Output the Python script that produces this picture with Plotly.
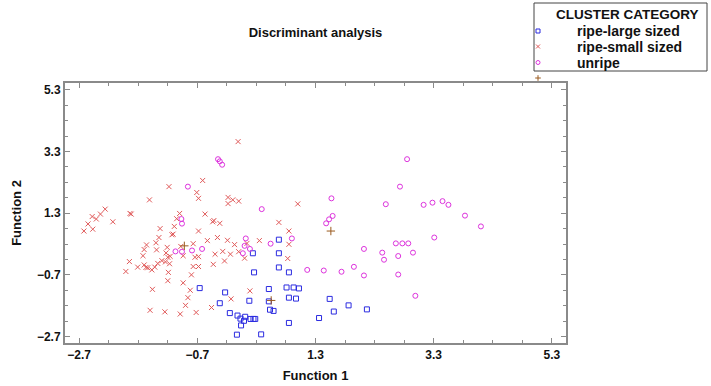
import plotly.graph_objects as go

# ---- data ----
large_x = [0.68, 0.24, 0.68, 0.68, 0.26, 0.85, -0.66, -0.23, 0.51, 0.81, 0.93, 1.02,
           1.54, -0.32, 0.18, 0.51, 0.85, 0.97, -0.15, -0.02, 0.03, 0.11, 0.09, 0.20,
           0.25, 0.28, 0.53, 0.59, 0.04, 0.85, 1.36, -0.03, 0.38, 1.86, 1.61, 2.17]
large_y = [0.44, 0.00, 0.00, -0.46, -0.62, -0.62, -1.13, -1.27, -1.16, -1.11, -1.11, -1.14,
           -1.48, -1.62, -1.54, -1.56, -1.44, -1.47, -1.94, -2.02, -2.12, -2.06, -2.19, -2.13,
           -2.13, -2.13, -1.83, -1.87, -2.34, -2.26, -2.10, -2.64, -2.63, -1.69, -1.89, -1.82]

small_x = [-0.01, -0.61, -1.18, -0.71, -0.68, -1.51, -0.18, -0.10, 0.00, -0.18, 1.00,
           -2.26, -2.34, -2.48, -2.41, -2.55, -2.47, -2.62, -2.13, -1.84, -1.82, -1.00,
           -1.05, -1.09, -0.57, -0.42, -0.44, -0.32, 0.68, -1.33, -0.68, 0.85, -1.11,
           -1.13, -1.35, -0.36, -0.53, -0.19, -0.07, 0.14, 0.35, 0.85, -0.77, -1.56,
           -1.40, -0.98, -1.60, -1.39, -1.21, -1.23, -1.16, -1.20, -0.94, -0.74, -0.68,
           -0.40, -0.27, -0.14, 0.00, 0.10, 0.83, -1.62, -1.30, -1.37, -1.24, -1.17,
           -1.85, -1.60, -1.71, -1.57, -1.54, -1.47, -1.42, -1.91, -1.19, -0.77, -0.68,
           -0.43, -0.24, -0.80, -1.20, -0.94, -1.46, -0.82, 0.19, -0.86, -0.13, -0.90,
           -0.46, -0.72, -0.99, -1.25, -1.50]
small_y = [3.62, 2.36, 2.16, 1.97, 1.78, 1.73, 1.81, 1.73, 1.69, 1.61, 1.60,
           1.43, 1.27, 1.19, 1.11, 0.95, 0.78, 0.72, 1.02, 1.29, 1.27, 1.29,
           1.12, 0.87, 1.27, 1.06, 1.02, 0.97, 1.00, 0.80, 0.72, 0.72, 0.62,
           0.60, 0.51, 0.51, 0.41, 0.42, 0.28, 0.32, 0.41, 0.29, 0.31, 0.27,
           0.34, 0.22, 0.12, 0.11, 0.19, 0.01, -0.10, -0.13, -0.08, -0.13, -0.11,
           -0.03, 0.06, -0.03, 0.05, -0.16, -0.17, -0.08, -0.24, -0.33, -0.28, -0.34,
           -0.27, -0.38, -0.45, -0.46, -0.47, -0.54, -0.45, -0.59, -0.62, -0.43, -0.43,
           -0.36, -0.25, -0.70, -0.89, -0.96, -1.17, -1.20, -1.22, -1.44, -1.48, -1.69,
           -1.76, -1.92, -1.97, -1.90, -1.85]

unripe_x = [-0.35, -0.32, -0.28, -0.86, 0.39, -0.97, -0.96, 0.12, 0.90, 0.10, 0.19, 0.54,
            0.07, -1.07, -0.96, -0.79, -0.62, 1.16, 1.44, 2.85, 2.73, 1.57, 2.49, 3.13,
            3.28, 3.45, 3.55, 3.83, 4.10, 1.59, 1.53, 1.48, 3.31, 2.66, 2.77, 2.87,
            2.12, 2.43, 2.95, 2.70, 2.46, 1.95, 1.74, 2.12, 2.70, 2.99]
unripe_y = [3.05, 2.98, 2.87, 2.16, 1.43, 1.11, 0.96, 0.48, 0.48, 0.24, 0.14, 0.31,
            0.00, 0.06, 0.05, 0.09, 0.14, -0.54, -0.56, 3.05, 2.16, 1.78, 1.59, 1.57,
            1.64, 1.69, 1.57, 1.22, 0.87, 1.21, 1.10, 0.97, 0.51, 0.32, 0.32, 0.32,
            0.14, 0.02, 0.02, -0.09, -0.21, -0.44, -0.60, -0.72, -0.69, -1.38]

centroid_x = [-0.92, 0.55, 1.56]
centroid_y = [0.24, -1.53, 0.72]

legend_title = "CLUSTER CATEGORY"
series_names = ["ripe-large sized", "ripe-small sized", "unripe"]

x_ticks_start, x_ticks_step = -2.7, 2.0
y_ticks_start, y_ticks_step = -2.7, 2.0

# ---- styles / layout ----
W, H = 711, 386
BLUE = "#2b2be0"
RED = "#e05a5a"
MAGENTA = "#dd33dd"
BROWN = "#9a5a1e"
AXIS = "#8a8a8a"
FONT = "Liberation Sans, Arial, sans-serif"

SYMBOLS = ["square-open", "x-thin-open", "circle-open"]
COLORS = [BLUE, RED, MAGENTA]

# plot frame in page pixels
PL, PR, PT, PB = 65, 566, 83, 343

fig = go.Figure()
series = [(large_x, large_y), (small_x, small_y), (unripe_x, unripe_y)]
for (xs, ys), name, sym, col in zip(series, series_names, SYMBOLS, COLORS):
    fig.add_trace(go.Scatter(x=xs, y=ys, mode="markers", name=name, showlegend=False,
                             marker=dict(symbol=sym, size=5, color=col, line=dict(width=1, color=col))))
fig.add_trace(go.Scatter(x=centroid_x, y=centroid_y, mode="markers", name="centroids", showlegend=False,
                         marker=dict(symbol="cross-thin-open", size=6, color=BROWN, line=dict(width=1, color=BROWN))))

# ---- custom legend block, drawn on a full-page pixel overlay (x2/y2) ----
LEG_BOX = (534, 707, 3, 71)
SW_X, TXT_X, TITLE_X, TITLE_Y = 538, 575, 627, 14
ROW_Y = [31, 46.5, 62.5]
EXTRA_Y = 78

fig.add_shape(type="rect", xref="x2", yref="y2", x0=LEG_BOX[0], x1=LEG_BOX[1], y0=LEG_BOX[2], y1=LEG_BOX[3],
              line=dict(color="#444", width=1), fillcolor="rgba(0,0,0,0)", layer="above")
fig.add_annotation(text=legend_title, x=TITLE_X, y=TITLE_Y, xref="x2", yref="y2",
                   showarrow=False, xanchor="center", yanchor="middle",
                   font=dict(family=FONT, size=13.5, color="#111", weight="bold"))
for name, ry in zip(series_names, ROW_Y):
    fig.add_annotation(text=name, x=TXT_X, y=ry, xref="x2", yref="y2",
                       showarrow=False, xanchor="left", yanchor="middle",
                       font=dict(family=FONT, size=14, color="#111", weight="bold"))
fig.add_trace(go.Scatter(x=[SW_X] * 4, y=ROW_Y + [EXTRA_Y], xaxis="x2", yaxis="y2",
                         mode="markers", showlegend=False, hoverinfo="skip",
                         marker=dict(symbol=SYMBOLS + ["cross-thin-open"], size=4,
                                     color=COLORS + [BROWN], line=dict(width=1, color=COLORS + [BROWN]))))

axis_common = dict(
    ticks="inside", ticklen=5, tickwidth=1, tickcolor=AXIS,
    showline=True, linecolor=AXIS, linewidth=2, mirror="allticks",
    showgrid=False, zeroline=False,
    tickfont=dict(family=FONT, size=12, color="#111", weight="bold"),
)

fig.update_layout(
    xaxis=dict(domain=[PL / W, PR / W], anchor="y",
               range=[-2.94, 5.54], tick0=x_ticks_start, dtick=x_ticks_step,
               minor=dict(ticks="inside", tick0=x_ticks_start, dtick=0.5, ticklen=3, tickcolor=AXIS, showgrid=False),
               title=dict(text="Function 1", font=dict(family=FONT, size=13, color="#111", weight="bold"), standoff=9),
               **axis_common),
    yaxis=dict(domain=[1 - PB / H, 1 - PT / H], anchor="x",
               range=[-2.91, 5.52], tick0=y_ticks_start, dtick=y_ticks_step,
               minor=dict(ticks="inside", tick0=y_ticks_start, dtick=0.5, ticklen=3, tickcolor=AXIS, showgrid=False),
               title=dict(text="Function 2", font=dict(family=FONT, size=13, color="#111", weight="bold"), standoff=12),
               **axis_common),
    xaxis2=dict(domain=[0, 1], range=[0, W], anchor="y2", visible=False, fixedrange=True),
    yaxis2=dict(domain=[0, 1], range=[H, 0], anchor="x2", visible=False, fixedrange=True),
    width=W, height=H,
    margin=dict(l=0, r=0, t=0, b=0, autoexpand=False),
    plot_bgcolor="rgba(0,0,0,0)", paper_bgcolor="white",
    title=dict(text="Discriminant analysis", x=((PL + PR) / 2) / W, xref="container", xanchor="center",
               y=1 - 32 / H, yref="container", yanchor="middle",
               font=dict(family=FONT, size=13, color="#111", weight="bold")),
    showlegend=False,
)

fig.write_html("out.html")
